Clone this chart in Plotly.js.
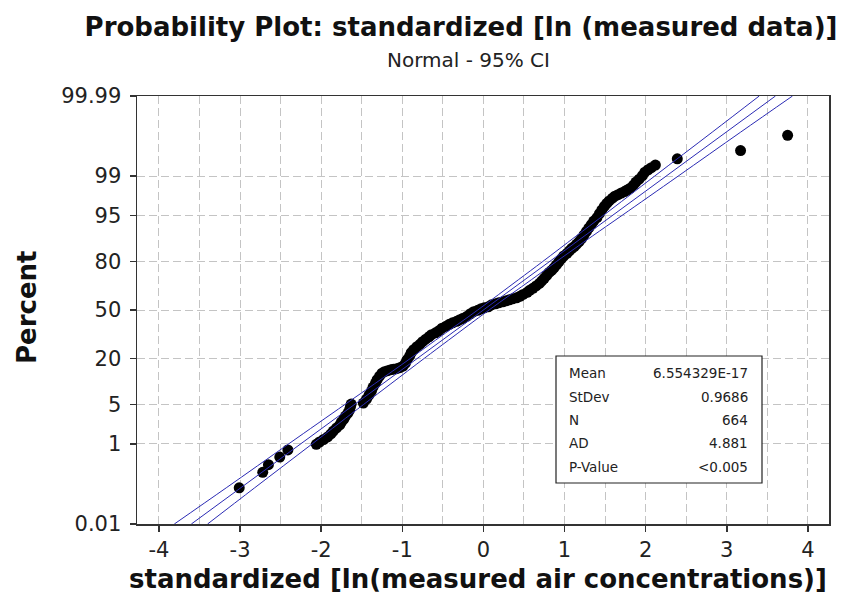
<!DOCTYPE html>
<html>
<head>
<meta charset="utf-8">
<script src="https://cdn.plot.ly/plotly-3.0.1.min.js"></script>
<style>html,body{margin:0;padding:0;background:#fff;}#chart{width:856px;height:606px;}</style>
</head>
<body>
<div id="chart"></div>
<script>
// ---- data ----
const dataX = [
 -3.01,-2.72,-2.65,-2.51,-2.41,-2.06,-2.02,-1.97,-1.92,-1.88,
 -1.85,-1.81,-1.77,-1.75,-1.72,-1.70,-1.67,-1.65,-1.64,-1.63,
 -1.48,-1.44,-1.41,-1.38,-1.36,-1.33,-1.31,-1.28,-1.25,-1.22,
 -1.18,-1.14,-1.11,-1.07,-1.03,-0.99,-0.96,-0.94,-0.91,-0.89,
 -0.86,-0.82,-0.78,-0.75,-0.71,-0.67,-0.64,-0.59,-0.55,-0.51,
 -0.46,-0.42,-0.38,-0.33,-0.29,-0.25,-0.20,-0.16,-0.12,-0.07,
 -0.03,0.01,0.06,0.10,0.15,0.19,0.24,0.28,0.32,0.36,
 0.41,0.45,0.49,0.54,0.57,0.61,0.65,0.69,0.72,0.75,
 0.78,0.81,0.84,0.87,0.90,0.93,0.96,0.99,1.03,1.06,
 1.09,1.12,1.15,1.18,1.21,1.24,1.27,1.30,1.33,1.36,
 1.40,1.43,1.46,1.49,1.52,1.55,1.59,1.62,1.66,1.70,
 1.74,1.77,1.81,1.85,1.88,1.92,1.96,1.99,2.03,2.07,
 2.12,2.39,3.17,3.75
];
const dataPct = [
 0.10,0.24,0.36,0.53,0.75,0.98,1.09,1.22,1.37,1.56,
 1.77,2.02,2.29,2.58,2.91,3.27,3.67,4.11,4.59,5.11,
 5.29,6.08,6.97,7.94,9.01,10.2,11.3,12.5,13.6,14.2,
 14.6,15.0,15.2,15.4,15.8,16.5,17.8,19.4,21.1,22.9,
 24.5,26.2,27.6,29.1,30.6,32.1,33.4,34.6,35.9,37.6,
 38.9,40.2,41.2,42.2,43.3,44.3,45.7,47.4,48.8,49.8,
 50.8,51.5,52.2,53.6,54.3,55.0,55.7,56.3,57.0,57.7,
 58.4,59.4,60.7,62.1,63.4,64.7,66.2,67.8,69.4,70.9,
 72.6,74.3,75.4,76.8,78.3,79.8,81.3,82.6,83.7,84.8,
 85.8,86.5,87.4,88.3,89.3,90.4,91.4,92.3,93.1,93.9,
 94.6,95.3,95.9,96.4,96.8,97.1,97.4,97.6,97.75,97.9,
 98.02,98.14,98.29,98.50,98.69,98.85,99.02,99.17,99.26,99.33,
 99.41,99.57,99.72,99.88
];

// fitted line and 95% CI bands
const fitPct = [0.01, 99.99];
const fitX = [-3.60, 3.60];
const ciPct   = [0.01, 0.1, 1, 5, 10, 20, 30, 50, 70, 80, 90, 95, 99, 99.9, 99.99];
const ciLeftX = [-3.81,-3.17,-2.40,-1.71,-1.34,-0.90,-0.59,-0.07,0.43,0.73,1.14,1.48,2.11,2.82,3.40];
const ciRightX= [-3.40,-2.82,-2.11,-1.48,-1.14,-0.73,-0.43,0.07,0.59,0.90,1.34,1.71,2.40,3.17,3.81];

// axis ticks
const yTickPct  = [0.01, 1, 5, 20, 50, 80, 95, 99, 99.99];
const yTickText = ['0.01','1','5','20','50','80','95','99','99.99'];
const xTickVals = [-4,-3,-2,-1,0,1,2,3,4];
const xTickText = ['-4','-3','-2','-1','0','1','2','3','4'];

// statistics box
const statLabels = ['Mean','StDev','N','AD','P-Value'];
const statValues = ['6.554329E-17','0.9686','664','4.881','<0.005'];

// ---- normal probability scale (inverse normal CDF) ----
function probit(p){
  const a=[-3.969683028665376e+01,2.209460984245205e+02,-2.759285104469687e+02,1.383577518672690e+02,-3.066479806614716e+01,2.506628277459239e+00];
  const b=[-5.447609879822406e+01,1.615858368580409e+02,-1.556989798598866e+02,6.680131188771972e+01,-1.328068155022803e+01];
  const c=[-7.784894002430293e-03,-3.223964580411365e-01,-2.400758277161838e+00,-2.549732539343734e+00,4.374664141464968e+00,2.938163982698783e+00];
  const d=[7.784695709041462e-03,3.224671290700398e-01,2.445134137142996e+00,3.754408661907416e+00];
  const pl=0.02425;
  if(p<pl){const q=Math.sqrt(-2*Math.log(p));return (((((c[0]*q+c[1])*q+c[2])*q+c[3])*q+c[4])*q+c[5])/((((d[0]*q+d[1])*q+d[2])*q+d[3])*q+1);}
  if(p>1-pl){const q=Math.sqrt(-2*Math.log(1-p));return -(((((c[0]*q+c[1])*q+c[2])*q+c[3])*q+c[4])*q+c[5])/((((d[0]*q+d[1])*q+d[2])*q+d[3])*q+1);}
  const q=p-0.5, r=q*q;
  return (((((a[0]*r+a[1])*r+a[2])*r+a[3])*r+a[4])*r+a[5])*q/(((((b[0]*r+b[1])*r+b[2])*r+b[3])*r+b[4])*r+1);
}
const toY = arr => arr.map(p => probit(p/100));

const lineColor = '#2a2ab4';
const FONT = 'DejaVu Sans, Verdana, sans-serif';

const traces = [
  {x: dataX, y: toY(dataPct), customdata: dataPct, type:'scatter', mode:'markers',
   marker:{color:'#000', size:11, line:{width:0}},
   hovertemplate:'%{x}, %{customdata}%<extra></extra>'},
  {x: ciLeftX, y: toY(ciPct), type:'scatter', mode:'lines', line:{color:lineColor, width:1, shape:'spline'}, hoverinfo:'skip'},
  {x: fitX, y: toY(fitPct), type:'scatter', mode:'lines', line:{color:lineColor, width:1}, hoverinfo:'skip'},
  {x: ciRightX, y: toY(ciPct), type:'scatter', mode:'lines', line:{color:lineColor, width:1, shape:'spline'}, hoverinfo:'skip'}
];

const gridStyle = {gridcolor:'#c4c4c4', griddash:'8px,4px', gridwidth:1};

// paper-coordinate helpers (plot area 137..829 x 96..524)
const L=137, R=829, T=96, B=524;
const px = v => (v-L)/(R-L);
const py = v => (B-v)/(B-T);

const annotations = [
  {text:'Normal - 95% CI', xref:'paper', yref:'paper', x:px(468), y:py(60), xanchor:'center', yanchor:'middle',
   showarrow:false, font:{family:FONT, size:20, color:'#222'}},
  {text:'<b>standardized [ln(measured air concentrations)]</b>', xref:'paper', yref:'paper', x:px(478), y:py(579),
   xanchor:'center', yanchor:'middle', showarrow:false, font:{family:FONT, size:26, color:'#111'}},
  {text:'<b>Percent</b>', xref:'paper', yref:'paper', x:px(27), y:py(307), textangle:-90,
   xanchor:'center', yanchor:'middle', showarrow:false, font:{family:FONT, size:26, color:'#111'}}
];
const rowY = [373.3, 397.3, 420, 443.3, 466.7];
statLabels.forEach((s,i)=>{
  annotations.push({text:s, xref:'paper', yref:'paper', x:px(567), y:py(rowY[i]), xanchor:'left', yanchor:'middle',
    showarrow:false, font:{family:FONT, size:13.5, color:'#222'}});
  annotations.push({text:statValues[i], xref:'paper', yref:'paper', x:px(750), y:py(rowY[i]), xanchor:'right', yanchor:'middle',
    showarrow:false, font:{family:FONT, size:13.5, color:'#222'}});
});

const layout = {
  width:856, height:606,
  margin:{l:L, r:856-R, t:T, b:606-B, pad:0},
  paper_bgcolor:'#fff', plot_bgcolor:'#fff',
  showlegend:false,
  title:{text:'<b>Probability Plot: standardized [ln (measured data)]</b>', xref:'container', yref:'container',
         x:461/856, y:1-27/606, xanchor:'center', yanchor:'middle', font:{family:FONT, size:26, color:'#111'}},
  xaxis:Object.assign({
    range:[-4.27, 4.26], tickmode:'array', tickvals:xTickVals, ticktext:xTickText,
    ticks:'outside', ticklen:6, tickwidth:1.5, tickcolor:'#333',
    tickfont:{family:FONT, size:21, color:'#222'},
    showline:true, linecolor:'#333', linewidth:1.5, mirror:true,
    showgrid:true, zeroline:false,
    minor:Object.assign({tickmode:'linear', tick0:0.5, dtick:1, showgrid:true, ticks:''}, gridStyle)
  }, gridStyle),
  yaxis:Object.assign({
    range:[probit(0.0001), probit(0.9999)], tickmode:'array', tickvals:toY(yTickPct), ticktext:yTickText,
    ticks:'outside', ticklen:6, tickwidth:1.5, tickcolor:'#333', ticklabelstandoff:4,
    tickfont:{family:FONT, size:21, color:'#222'},
    showline:true, linecolor:'#333', linewidth:1.5, mirror:true,
    showgrid:true, zeroline:false
  }, gridStyle),
  shapes:[{type:'rect', xref:'paper', yref:'paper', x0:px(556), x1:px(762), y0:py(483), y1:py(356),
           line:{color:'#222', width:1.2}, fillcolor:'#fff', layer:'above'}],
  annotations: annotations
};

Plotly.newPlot('chart', traces, layout, {displayModeBar:false, staticPlot:true});
</script>
</body>
</html>
